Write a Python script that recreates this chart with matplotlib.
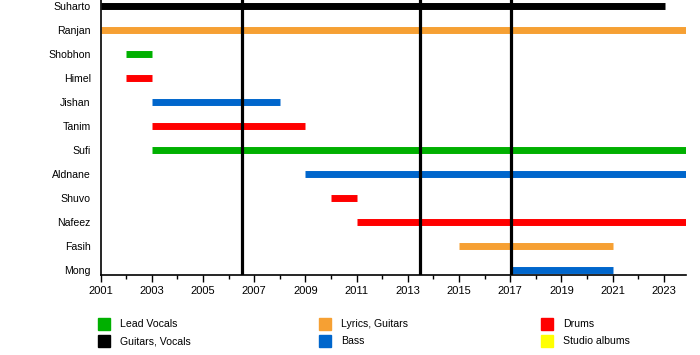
import matplotlib.pyplot as plt
from matplotlib.patches import Rectangle
from matplotlib.ticker import MultipleLocator

plt.rcParams['font.family'] = ['Liberation Sans', 'DejaVu Sans']

# members, top to bottom
members = ['Suharto', 'Ranjan', 'Shobhon', 'Himel', 'Jishan', 'Tanim',
           'Sufi', 'Aldnane', 'Shuvo', 'Nafeez', 'Fasih', 'Mong']
starts = [2001, 2001, 2002, 2002, 2003, 2003, 2003, 2009, 2010, 2011, 2015, 2017]
ends = [2023.05, 2023.87, 2003, 2003, 2008, 2009, 2023.87, 2023.87, 2011, 2023.87, 2021, 2021]
roles = ['Guitars, Vocals', 'Lyrics, Guitars', 'Lead Vocals', 'Drums', 'Bass', 'Drums',
         'Lead Vocals', 'Bass', 'Drums', 'Drums', 'Lyrics, Guitars', 'Bass']

albums = [2006.53, 2013.48, 2017.04]

colors = {
    'Lead Vocals': '#00b000',
    'Guitars, Vocals': '#000000',
    'Lyrics, Guitars': '#f6a033',
    'Bass': '#0066cc',
    'Drums': '#ff0000',
    'Studio albums': '#ffff00',
}

fig = plt.figure(figsize=(7, 3.55), dpi=100)
ax = fig.add_axes([0.1436, 0.2254, 0.98 - 0.1436, 1 - 0.2254])

n = len(members)
for i, m in enumerate(members):
    y = n - 1 - i
    ax.hlines(y, starts[i], ends[i], color=colors[roles[i]], linewidth=5, zorder=2)

for a in albums:
    ax.axvline(a, color='black', linewidth=2.3, zorder=3)

ax.set_xlim(2001, 2023.87)
ax.set_ylim(-0.21, n - 1 + 0.25)
ax.set_yticks(range(n))
ax.set_yticklabels(members[::-1], fontsize=7.6)
ax.tick_params(axis='y', length=0, pad=7)
ticks = list(range(2001, 2024, 2))
ax.set_xticks(ticks)
ax.set_xticklabels([str(t) for t in ticks])
ax.xaxis.set_minor_locator(MultipleLocator(1))
ax.tick_params(axis='x', which='major', length=5, width=1, labelsize=8, pad=3)
ax.tick_params(axis='x', which='minor', length=3, width=1)
for s in ['top', 'right']:
    ax.spines[s].set_visible(False)
for s in ['left', 'bottom']:
    ax.spines[s].set_linewidth(1.2)

# legend
legend_cols = [['Lead Vocals', 'Guitars, Vocals'],
               ['Lyrics, Guitars', 'Bass'],
               ['Drums', 'Studio albums']]
col_x = [98, 319, 541]
row_y = [324, 341]
for c, names in enumerate(legend_cols):
    for r, name in enumerate(names):
        x0 = col_x[c]
        y0 = row_y[r]
        fig.patches.append(Rectangle((x0 / 700, 1 - (y0 + 6) / 355), 12 / 700, 12 / 355,
                                     transform=fig.transFigure, color=colors[name]))
        fig.text((x0 + 22) / 700, 1 - y0 / 355, name, fontsize=7.6, va='center', ha='left')

fig.savefig('out.png', dpi=100)
